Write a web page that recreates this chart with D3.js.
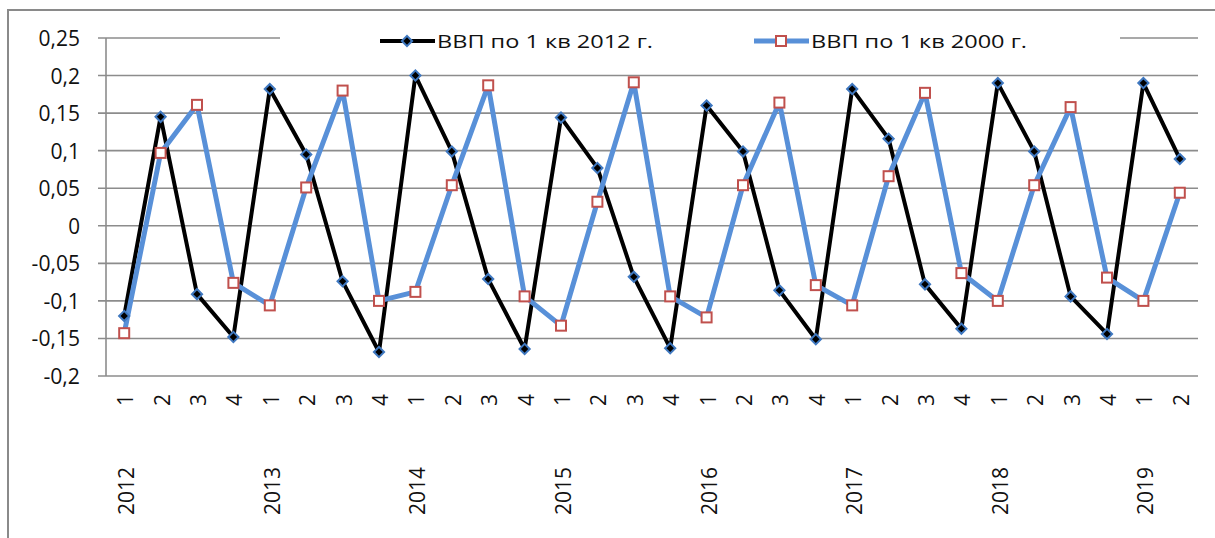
<!DOCTYPE html>
<html><head><meta charset="utf-8">
<script src="https://cdn.jsdelivr.net/npm/d3@7"></script>
<style>html,body{margin:0;padding:0;background:#fff;overflow:hidden}</style>
</head><body>
<svg id="chart" width="1215" height="538"></svg>
<script>
const years = ["2012","2013","2014","2015","2016","2017","2018","2019"];
const quarters = ["1","2","3","4","1","2","3","4","1","2","3","4","1","2","3","4","1","2","3","4","1","2","3","4","1","2","3","4","1","2"];
const seriesNames = ["ВВП по 1 кв 2012 г.", "ВВП по 1 кв 2000 г."];
const gdp2012 = [-0.120,0.145,-0.091,-0.148, 0.182,0.095,-0.074,-0.168, 0.200,0.099,-0.071,-0.164,
                 0.144,0.077,-0.068,-0.163, 0.160,0.099,-0.086,-0.151, 0.182,0.116,-0.078,-0.137,
                 0.190,0.099,-0.094,-0.144, 0.190,0.089];
const gdp2000 = [-0.143,0.097,0.161,-0.076, -0.106,0.051,0.180,-0.100, -0.088,0.054,0.187,-0.094,
                 -0.133,0.032,0.191,-0.094, -0.122,0.054,0.164,-0.079, -0.106,0.066,0.177,-0.063,
                 -0.100,0.054,0.158,-0.069, -0.100,0.044];
const yTicks = [-0.2,-0.15,-0.1,-0.05,0,0.05,0.1,0.15,0.2,0.25];

(function(){
const svg = d3.select("#chart");
const FONT = "'Open Sans', 'Liberation Sans', Arial, sans-serif";
const pL = 106, pR = 1198, pT = 38, pB = 376;

// outer frame
svg.append("rect").attr("x",8).attr("y",10).attr("width",1215).attr("height",540)
  .attr("fill","#fff").attr("stroke","#8a8a8a").attr("stroke-width",2);

const idx = d3.range(gdp2012.length);
const x = d3.scaleBand().domain(idx).range([pL,pR]);
const cx = i => x(i) + x.bandwidth()/2;
const y = d3.scaleLinear().domain([-0.2,0.25]).range([pB,pT]);

// gridlines
svg.append("g").selectAll("line").data(yTicks).join("line")
  .attr("x1",pL-8).attr("x2",pR)
  .attr("y1",d=>y(d)).attr("y2",d=>y(d))
  .attr("stroke","#8c8c8c").attr("stroke-width",1.6);
// vertical axis
svg.append("line").attr("x1",pL).attr("x2",pL).attr("y1",pT).attr("y2",pB)
  .attr("stroke","#8c8c8c").attr("stroke-width",1.6);

// y tick labels
const fmt = d => (d===0 ? "0" : String(+d.toFixed(2))).replace(".",",");
svg.append("g").selectAll("text").data(yTicks).join("text")
  .attr("x",80).attr("y",d=>y(d)).attr("text-anchor","end").attr("dominant-baseline","central")
  .attr("font-family",FONT).attr("font-size",21).attr("fill","#111")
  .attr("textLength",d=>{const s=fmt(d); return s.replace(/[,]/g,"").replace("-","").length*11.8 + (s.includes(",")?6:0) + (s.includes("-")?7:0);})
  .attr("lengthAdjust","spacingAndGlyphs")
  .text(fmt);

// quarter labels
svg.append("g").selectAll("text").data(idx).join("text")
  .attr("transform",i=>`translate(${cx(i)+1},400) rotate(-90)`)
  .attr("text-anchor","middle").attr("dominant-baseline","central")
  .attr("font-family",FONT).attr("font-size",21).attr("fill","#111")
  .text(i=>quarters[i]);
// year labels
svg.append("g").selectAll("text").data(years).join("text")
  .attr("transform",(d,k)=>`translate(${cx(k*4)+2},491) rotate(-90)`)
  .attr("text-anchor","middle").attr("dominant-baseline","central")
  .attr("font-family",FONT).attr("font-size",21).attr("fill","#111")
  .text(d=>d);

// lines
const line = d3.line().x((d,i)=>cx(i)).y(d=>y(d));
svg.append("path").datum(gdp2012).attr("d",line).attr("fill","none")
  .attr("stroke","#000").attr("stroke-width",4).attr("stroke-linejoin","round");
svg.append("path").datum(gdp2000).attr("d",line).attr("fill","none")
  .attr("stroke","#5890d8").attr("stroke-width",5).attr("stroke-linejoin","round");

const diamond = d3.symbol().type(d3.symbolSquare).size(52)();
function drawDiamonds(g, data){
  g.selectAll("path").data(data).join("path")
    .attr("d",diamond)
    .attr("transform",(d,i)=>`translate(${cx(i)},${y(d)}) rotate(45)`)
    .attr("fill","#000").attr("stroke","#3f78c0").attr("stroke-width",2);
}
function drawSquares(g, data){
  g.selectAll("rect").data(data).join("rect")
    .attr("x",(d,i)=>cx(i)-5).attr("y",d=>y(d)-5).attr("width",10).attr("height",10)
    .attr("fill","#fff").attr("stroke","#c0504d").attr("stroke-width",2);
}
drawDiamonds(svg.append("g"), gdp2012);
drawSquares(svg.append("g"), gdp2000);

// legend
const lg = svg.append("g");
lg.append("rect").attr("x",280).attr("y",28).attr("width",840).attr("height",26).attr("fill","#fff");
const legendItems = [{x:380, name:seriesNames[0], k:0},{x:754, name:seriesNames[1], k:1}];
legendItems.forEach(it=>{
  lg.append("line").attr("x1",it.x).attr("x2",it.x+55).attr("y1",41).attr("y2",41)
    .attr("stroke", it.k===0 ? "#000" : "#5890d8").attr("stroke-width", it.k===0?4:5);
  if(it.k===0){
    lg.append("path").attr("d",diamond).attr("transform",`translate(${it.x+27},41) rotate(45)`)
      .attr("fill","#000").attr("stroke","#3f78c0").attr("stroke-width",2);
  } else {
    lg.append("rect").attr("x",it.x+27-5).attr("y",41-5).attr("width",10).attr("height",10)
      .attr("fill","#fff").attr("stroke","#c0504d").attr("stroke-width",2);
  }
  lg.append("text").attr("x",it.x+57).attr("y",41).attr("dominant-baseline","central")
    .attr("font-family",FONT).attr("font-size",18).attr("fill","#111")
    .attr("textLength",216).attr("lengthAdjust","spacingAndGlyphs")
    .text(it.name);
});
})();
</script>
</body></html>
